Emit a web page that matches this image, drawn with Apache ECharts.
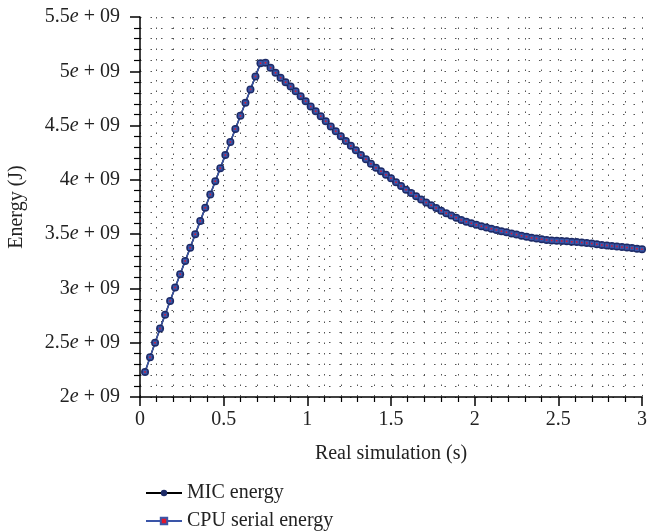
<!DOCTYPE html>
<html>
<head>
<meta charset="utf-8">
<script src="https://cdn.jsdelivr.net/npm/echarts@6/dist/echarts.min.js"></script>
<style>
  html, body { margin: 0; padding: 0; background: #fff; }
  #chart { width: 672px; height: 531px; }
</style>
</head>
<body>
<div id="chart"></div>
<script>
// time samples (s)
var times = [0.03, 0.06, 0.09, 0.12, 0.15, 0.18, 0.21, 0.24, 0.27, 0.30,
  0.33, 0.36, 0.39, 0.42, 0.45, 0.48, 0.51, 0.54, 0.57, 0.60,
  0.63, 0.66, 0.69, 0.72, 0.75, 0.78, 0.81, 0.84, 0.87, 0.90,
  0.93, 0.96, 0.99, 1.02, 1.05, 1.08, 1.11, 1.14, 1.17, 1.20,
  1.23, 1.26, 1.29, 1.32, 1.35, 1.38, 1.41, 1.44, 1.47, 1.50,
  1.53, 1.56, 1.59, 1.62, 1.65, 1.68, 1.71, 1.74, 1.77, 1.80,
  1.83, 1.86, 1.89, 1.92, 1.95, 1.98, 2.01, 2.04, 2.07, 2.10,
  2.13, 2.16, 2.19, 2.22, 2.25, 2.28, 2.31, 2.34, 2.37, 2.40,
  2.43, 2.46, 2.49, 2.52, 2.55, 2.58, 2.61, 2.64, 2.67, 2.70,
  2.73, 2.76, 2.79, 2.82, 2.85, 2.88, 2.91, 2.94, 2.97, 3.00];

// energy in units of 1e9 J
var micEnergy = [2.23, 2.365, 2.50, 2.63, 2.758, 2.885, 3.008, 3.13, 3.253, 3.375,
  3.498, 3.62, 3.744, 3.866, 3.988, 4.108, 4.228, 4.348, 4.468, 4.59,
  4.71, 4.832, 4.953, 5.075, 5.079, 5.033, 4.987, 4.94, 4.90, 4.86,
  4.815, 4.77, 4.723, 4.675, 4.631, 4.585, 4.539, 4.492, 4.447, 4.402,
  4.357, 4.313, 4.272, 4.23, 4.189, 4.149, 4.112, 4.08, 4.048, 4.014,
  3.978, 3.943, 3.91, 3.878, 3.849, 3.82, 3.792, 3.765, 3.74, 3.716,
  3.693, 3.671, 3.65, 3.631, 3.615, 3.601, 3.587, 3.573, 3.561, 3.55,
  3.538, 3.527, 3.517, 3.507, 3.497, 3.485, 3.475, 3.467, 3.459, 3.452,
  3.447, 3.442, 3.438, 3.436, 3.434, 3.431, 3.427, 3.422, 3.418, 3.413,
  3.407, 3.401, 3.396, 3.391, 3.387, 3.381, 3.376, 3.372, 3.366, 3.36];

var cpuEnergy = micEnergy.slice();  // the two curves coincide in the figure

var fontFam = '"Liberation Serif", "Times New Roman", serif';

function pairs(xs, ys) {
  var out = [];
  for (var i = 0; i < xs.length; i++) out.push([xs[i], ys[i] * 1e9]);
  return out;
}

var myChart = echarts.init(document.getElementById('chart'));

var dotted = { color: '#555', width: 1, type: [1.5, 9] };
var legendText = { fontFamily: fontFam, fontSize: 20, color: '#222' };

option = {
  animation: false,
  textStyle: { fontFamily: fontFam },
  grid: { left: 140, right: 30, top: 17, bottom: 134, containLabel: false, outerBoundsMode: 'none' },
  legend: [{
    left: 140,
    top: 478,
    itemWidth: 36,
    itemHeight: 8,
    textStyle: legendText,
    data: ['MIC energy']
  }, {
    left: 140,
    top: 506,
    itemWidth: 36,
    itemHeight: 8,
    textStyle: legendText,
    data: ['CPU serial energy']
  }],
  xAxis: {
    type: 'value',
    min: 0,
    max: 3,
    interval: 0.5,
    name: 'Real simulation (s)',
    nameLocation: 'middle',
    nameGap: 47,
    nameTextStyle: { fontFamily: fontFam, fontSize: 20, color: '#222' },
    axisLine: { lineStyle: { color: '#000', width: 1.5 } },
    axisTick: { length: 9, lineStyle: { color: '#000', width: 1.5 } },
    minorTick: { show: true, splitNumber: 5, length: 5, lineStyle: { color: '#000', width: 1.2 } },
    axisLabel: { fontFamily: fontFam, fontSize: 20, color: '#222', margin: 13 },
    splitLine: { show: true, lineStyle: dotted },
    minorSplitLine: { show: true, lineStyle: dotted }
  },
  yAxis: {
    type: 'value',
    min: 2e9,
    max: 5.5e9,
    interval: 0.5e9,
    name: 'Energy (J)',
    nameLocation: 'middle',
    nameGap: 113,
    nameTextStyle: { fontFamily: fontFam, fontSize: 20, color: '#222' },
    axisLine: { show: true, lineStyle: { color: '#000', width: 1.5 } },
    axisTick: { show: true, length: 10, lineStyle: { color: '#000', width: 1.5 } },
    minorTick: { show: true, splitNumber: 5, length: 6, lineStyle: { color: '#000', width: 1.2 } },
    axisLabel: {
      fontFamily: fontFam,
      fontSize: 20,
      color: '#222',
      margin: 20,
      formatter: function (v) {
        var m = +(v / 1e9).toFixed(1);
        return m + '{e|e} + 09';
      },
      rich: { e: { fontStyle: 'italic', fontFamily: fontFam, fontSize: 20, color: '#222' } }
    },
    splitLine: { show: true, lineStyle: dotted },
    minorSplitLine: { show: true, lineStyle: dotted }
  },
  series: [{
    name: 'MIC energy',
    type: 'line',
    symbol: 'circle',
    symbolSize: 8,
    lineStyle: { color: '#000', width: 1.5 },
    itemStyle: { color: '#1c2a66' },
    data: pairs(times, micEnergy)
  }, {
    name: 'CPU serial energy',
    type: 'line',
    symbol: 'rect',
    symbolSize: 3,
    lineStyle: { color: '#3a55a8', width: 1.5 },
    itemStyle: { color: '#e0182e', borderColor: '#3a55a8', borderWidth: 1.5 },
    data: pairs(times, cpuEnergy)
  }]
};

myChart.setOption(option);
window.addEventListener("resize", function () {
  myChart.resize();
});
</script>
</body>
</html>
